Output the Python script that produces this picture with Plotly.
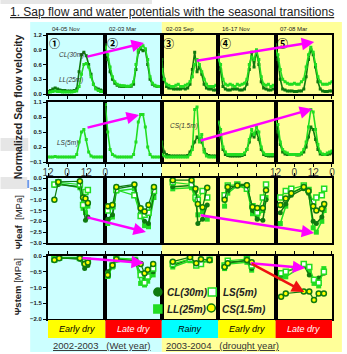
import plotly.graph_objects as go

W, H = 347, 354
ML, MR, MT, MB = 48, 12, 35, 35
PW, PH = W - ML - MR, H - MT - MB


def X(px):
    return (px - ML) / PW


def Y(py):
    return (H - MB - py) / PH


# ---------------- data ----------------
PANEL_DATES = ["04-05 Nov", "02-03 Mar", "02-03 Sep", "16-17 Nov", "07-08 Mar"]
PANEL_MARKS = ["①", "②", "③", "④", "⑤"]
SEASONS = ["Early dry", "Late dry", "Rainy", "Early dry", "Late dry"]
SEASON_COLORS = ["#ffff00", "#ff0000", "#00ffff", "#ffff00", "#ff0000"]
SEASON_TEXT = ["black", "white", "black", "black", "white"]
YEARS = ["2002-2003\u00a0\u00a0\u00a0(Wet year)", "2003-2004\u00a0\u00a0\u00a0(drought year)"]

HOUR_TICKS = [0, 12, 24, 36]
HOUR_LABELS = ["12", "0", "12", "0"]

SAP_HOURS = [0, 1.5, 3, 4.5, 6, 7.5, 9, 10.5, 12, 13.5, 15, 16.5, 18,
             19.5, 21, 22.5, 24, 25.5, 27, 28.5, 30, 31.5, 33, 34.5, 36]

SAP_CL = [
    [0.05, 0.07, 0.10, 0.12, 0.10, 0.08, 0.07, 0.07, 0.06, 0.06, 0.06, 0.07, 0.10,
     0.45, 0.80, 0.85, 0.78, 0.60, 0.40, 0.20, 0.12, 0.10, 0.08, 0.06, 0.06],
    [1.00, 0.70, 0.45, 0.30, 0.22, 0.18, 0.16, 0.15, 0.15, 0.15, 0.15, 0.16, 0.20,
     0.50, 0.85, 0.92, 0.88, 0.90, 0.60, 0.30, 0.20, 0.17, 0.15, 0.15, 0.14],
    [0.70, 0.30, 0.15, 0.12, 0.12, 0.10, 0.10, 0.10, 0.10, 0.12, 0.10, 0.12, 0.20,
     0.50, 0.85, 0.45, 0.55, 0.40, 0.20, 0.12, 0.10, 0.10, 0.08, 0.08, 0.10],
    [0.80, 0.50, 0.15, 0.10, 0.08, 0.08, 0.10, 0.10, 0.10, 0.08, 0.08, 0.10, 0.20,
     0.50, 0.85, 0.55, 0.88, 0.60, 0.25, 0.12, 0.10, 0.08, 0.08, 0.10, 0.10],
    [1.00, 0.70, 0.30, 0.10, 0.08, 0.06, 0.06, 0.06, 0.05, 0.05, 0.06, 0.06, 0.10,
     0.35, 0.70, 0.90, 0.80, 0.55, 0.25, 0.10, 0.06, 0.05, 0.05, 0.06, 0.06],
]
SAP_LL = [
    [0.03, 0.04, 0.05, 0.06, 0.05, 0.05, 0.04, 0.04, 0.04, 0.04, 0.04, 0.05, 0.06,
     0.15, 0.40, 0.60, 0.62, 0.55, 0.35, 0.20, 0.10, 0.07, 0.05, 0.05, 0.05],
    [0.95, 0.80, 0.55, 0.35, 0.25, 0.20, 0.18, 0.17, 0.17, 0.16, 0.16, 0.18, 0.25,
     0.60, 0.90, 0.95, 0.98, 0.92, 0.70, 0.35, 0.22, 0.18, 0.16, 0.15, 0.15],
    [0.50, 0.30, 0.20, 0.18, 0.15, 0.15, 0.18, 0.20, 0.15, 0.15, 0.18, 0.20, 0.25,
     0.35, 0.60, 0.70, 0.60, 0.45, 0.30, 0.20, 0.15, 0.15, 0.15, 0.18, 0.20],
    [0.70, 0.60, 0.30, 0.20, 0.18, 0.20, 0.18, 0.15, 0.20, 0.18, 0.20, 0.22, 0.30,
     0.60, 0.75, 0.70, 0.90, 0.70, 0.35, 0.20, 0.18, 0.20, 0.15, 0.18, 0.20],
    [0.90, 0.80, 0.50, 0.30, 0.25, 0.22, 0.20, 0.20, 0.22, 0.20, 0.20, 0.25, 0.30,
     0.55, 0.80, 0.95, 0.85, 0.60, 0.35, 0.25, 0.20, 0.20, 0.20, 0.22, 0.25],
]
SAP_LS = [
    [0, 0, 0, 0.01, 0, 0, 0, 0, 0, 0, 0, 0, 0.05,
     0.30, 0.50, 0.55, 0.35, 0.10, 0.02, 0, 0, 0, 0, 0, 0],
    [1.05, 0.50, 0.15, 0.05, 0.02, 0, 0, 0, 0, 0, 0, 0, 0.05,
     0.30, 0.70, 0.85, 0.85, 0.60, 0.20, 0.05, 0, 0, 0, 0, 0],
    [0.05, 0.02, 0, 0, 0, 0, 0, 0, 0, 0, 0, 0, 0.05,
     0.15, 0.95, 1.00, 0.30, 0.45, 0.10, 0.02, 0, 0, 0, 0, 0],
    [0.70, 0.55, 0.20, 0.10, 0.05, 0.05, 0.05, 0.05, 0.05, 0.05, 0.05, 0.08, 0.15,
     0.35, 0.55, 0.45, 0.60, 0.50, 0.20, 0.08, 0.05, 0.05, 0.05, 0.05, 0.05],
    [0.70, 0.65, 0.30, 0.15, 0.10, 0.08, 0.05, 0.05, 0.05, 0.05, 0.05, 0.08, 0.15,
     0.30, 0.60, 0.95, 0.90, 0.55, 0.25, 0.10, 0.06, 0.05, 0.08, 0.10, 0.12],
]
SAP_CS = [
    None,
    None,
    [0.30, 0.10, 0.05, 0.03, 0.02, 0.02, 0.02, 0.02, 0.02, 0.02, 0.02, 0.03, 0.10,
     0.20, 0.30, 0.40, 0.35, 0.30, 0.15, 0.05, 0.03, 0.02, 0.02, 0.02, 0.02],
    [0.50, 0.40, 0.15, 0.05, 0.03, 0.02, 0.02, 0.02, 0.02, 0.02, 0.03, 0.05, 0.15,
     0.30, 0.45, 0.40, 0.50, 0.35, 0.15, 0.05, 0.03, 0.02, 0.02, 0.02, 0.02],
    [0.60, 0.50, 0.25, 0.10, 0.06, 0.05, 0.05, 0.05, 0.05, 0.04, 0.04, 0.06, 0.10,
     0.20, 0.40, 0.60, 0.55, 0.35, 0.15, 0.06, 0.05, 0.05, 0.05, 0.06, 0.08],
]

LEAF_HOURS = [
    [4, 6.5, 20, 22, 23.5, 25],
    [1.5, 4.5, 7, 18.5, 22.5, 25, 27.5, 31],
    [7, 19, 21.5, 23, 26, 29],
    [4, 6, 12, 18, 21.5, 24.5, 28, 30],
    [3, 6.5, 10, 18, 21, 24, 26, 29.5, 31],
]
LEAF_CL = [
    [-0.35, -0.30, -0.40, -1.20, -1.95, -1.80],
    [-1.90, -1.70, -0.50, -0.35, -1.60, -2.00, -2.10, -0.70],
    [-0.40, -0.35, -0.60, -2.10, -1.90, -1.25],
    [-0.90, -0.60, -0.30, -0.30, -1.50, -1.90, -1.95, -1.00],
    [-1.60, -1.20, -0.80, -0.50, -0.70, -2.00, -2.10, -1.80, -1.30],
]
LEAF_LL = [
    [-0.30, -0.25, -0.45, -1.40, -1.60, -1.30],
    [-2.10, -1.80, -0.60, -0.50, -1.70, -2.20, -2.25, -0.90],
    [-0.50, -0.45, -1.00, -1.70, -1.55, -1.90],
    [-1.30, -0.70, -0.35, -0.50, -1.65, -1.80, -1.50, -0.90],
    [-2.10, -1.30, -0.70, -0.40, -0.60, -2.30, -2.50, -2.00, -1.50],
]
LEAF_LS = [
    [-0.30, -0.20, -0.30, -1.25, -0.65, -0.55],
    [-1.50, -1.30, -0.55, -0.80, -1.75, -1.70, -1.60, -0.60],
    [-0.20, -0.30, -0.90, -1.00, -0.60, -0.90],
    [-0.80, -0.35, -0.30, -0.50, -1.30, -1.60, -0.90, -0.30],
    [-0.90, -0.60, -0.50, -0.35, -0.55, -1.10, -0.90, -0.80, -0.50],
]
LEAF_CS = [
    [-1.00, -0.18, -0.15, -0.90, -0.95, -1.15],
    [-1.30, -1.25, -0.42, -0.30, -1.40, -1.55, -1.25, -0.42],
    [-0.10, -0.10, -0.50, -1.20, -1.35, -0.45],
    [-1.00, -0.42, -0.35, -0.34, -1.34, -1.38, -1.38, -0.57],
    [-1.25, -0.95, -0.70, -0.42, -0.60, -1.30, -1.50, -1.42, -1.20],
]

STEM_HOURS = [
    [4, 7, 20, 23, 25],
    [1.5, 4.5, 7, 19, 22.5, 25, 27, 30.5],
    [7, 18, 22, 25, 30.5],
    [4, 6, 18, 21],
    [3.5, 6.5, 18, 21.5, 24.5, 27.5, 30.8],
]
STEM_CL = [
    [-0.10, -0.05, -0.10, -0.40, -0.30],
    [-0.50, -0.30, -0.10, -0.20, -0.55, -0.70, -0.60, -0.50],
    [-0.30, -0.10, -0.25, -0.20, -0.15],
    [-0.30, -0.20, -0.15, -0.40],
    [-0.60, -0.50, -0.30, -0.60, -0.75, -0.70, -0.55],
]
STEM_LL = [
    [-0.08, -0.05, -0.05, -0.15, -0.20],
    [-0.65, -0.35, -0.07, -0.10, -0.87, -0.92, -0.80, -0.60],
    [-0.35, -0.15, -0.30, -0.20, -0.15],
    [-0.40, -0.25, -0.20, -0.45],
    [-0.70, -0.66, -0.29, -0.45, -0.87, -0.95, -0.40],
]
STEM_LS = [
    [-0.10, -0.05, -0.06, -0.20, -0.15],
    [-0.60, -0.30, -0.10, -0.15, -0.60, -0.85, -0.65, -0.40],
    [-0.25, -0.10, -0.30, -0.25, -0.12],
    [-0.30, -0.15, -0.10, -0.30],
    [-0.55, -0.50, -0.25, -0.35, -0.75, -0.85, -0.50],
]
STEM_CS = [
    [-0.13, -0.07, -0.07, -0.25, -0.21],
    [-0.60, -0.29, -0.10, -0.15, -0.25, -0.55, -0.44, -0.25],
    [-0.18, -0.04, -0.23, -0.10, -0.13],
    [-0.35, -0.23, -0.13, -0.20],
    [-1.29, -1.19, -1.13, -1.13, -1.40, -1.19, -1.19],
]

# ---------------- layout geometry ----------------
COL_PX = [48, 106, 163, 220, 278, 335]
ROW_PX = [(35, 94), (102, 162), (178, 243), (256, 319)]
Y_RANGES = [(0, 1.2), (-0.1, 1.1), (-3, 0), (-2, 0)]
Y_TICKS = [[0, 0.3, 0.6, 0.9, 1.2], [-0.1, 0.2, 0.5, 0.8, 1.1],
           [0, -0.5, -1, -1.5, -2, -2.5, -3], [0, -0.5, -1, -1.5, -2]]

DARK = "#0f7a0f"
BRIGHT = "#22dd22"
FONT = "Liberation Sans"


def axname(i, a):
    return a if i == 1 else f"{a}{i}"


fig = go.Figure()
layout = {}
for r in range(4):
    for c in range(5):
        i = r * 5 + c + 1
        layout["xaxis" if i == 1 else f"xaxis{i}"] = dict(
            domain=[X(COL_PX[c]), X(COL_PX[c + 1])], anchor=axname(i, "y"),
            range=[0, 36], tickvals=HOUR_TICKS, ticktext=HOUR_LABELS,
            ticks="outside", ticklen=3, tickwidth=1, tickcolor="black",
            showline=True, linecolor="black", linewidth=2, mirror=True,
            showgrid=False, zeroline=False,
            showticklabels=(r == 1 and c in (0, 4)), ticklabelstandoff=-3,
            tickfont=dict(size=10, color="#444", family=FONT),
            side="top" if r >= 2 else "bottom", fixedrange=True)
        layout["yaxis" if i == 1 else f"yaxis{i}"] = dict(
            domain=[Y(ROW_PX[r][1]), Y(ROW_PX[r][0])], anchor=axname(i, "x"),
            range=list(Y_RANGES[r]), tickvals=Y_TICKS[r], tickformat=".1f",
            ticks="outside" if c == 0 else "", ticklen=3, tickcolor="black",
            showticklabels=(c == 0),
            tickfont=dict(size=6, color="#222", family=FONT, weight="bold"),
            showline=True, linecolor="black", linewidth=2, mirror=True,
            showgrid=False, zeroline=False, fixedrange=True)


def add(r, c, xs, ys, **kw):
    i = r * 5 + c + 1
    fig.add_trace(go.Scatter(x=xs, y=ys, xaxis=axname(i, "x"), yaxis=axname(i, "y"),
                             showlegend=False, hoverinfo="skip", **kw))


# sap flow rows
for c in range(5):
    for r, series in ((0, [(SAP_CL, DARK), (SAP_LL, BRIGHT)]),
                      (1, [(SAP_CS, DARK), (SAP_LS, BRIGHT)])):
        for data, col in series:
            if data[c] is None:
                continue
            add(r, c, SAP_HOURS, data[c], mode="lines+markers",
                line=dict(color=col, width=1.6),
                marker=dict(size=3, color=col, symbol="square"))

# water potential rows
STYLES = {
    "LL": dict(line=dict(color=BRIGHT, width=1.5),
               marker=dict(symbol="square", size=5, color=BRIGHT)),
    "CL": dict(line=dict(color=DARK, width=1.5),
               marker=dict(symbol="circle", size=5, color=DARK)),
    "LS": dict(line=dict(color=BRIGHT, width=1.2),
               marker=dict(symbol="square", size=5, color="white",
                           line=dict(color=BRIGHT, width=1.5))),
    "CS": dict(line=dict(color=DARK, width=1.2),
               marker=dict(symbol="circle", size=5, color="#ffff00",
                           line=dict(color=DARK, width=1.5))),
}
for c in range(5):
    for r, hrs, sets in ((2, LEAF_HOURS, [("LL", LEAF_LL), ("CL", LEAF_CL), ("LS", LEAF_LS), ("CS", LEAF_CS)]),
                         (3, STEM_HOURS, [("LL", STEM_LL), ("CL", STEM_CL), ("LS", STEM_LS), ("CS", STEM_CS)])):
        for name, data in sets:
            add(r, c, hrs[c], data[c], mode="lines+markers", cliponaxis=False, **STYLES[name])

shapes = []
# background panels
shapes.append(dict(type="rect", xref="paper", yref="paper", layer="below",
                   x0=X(30), x1=X(163), y0=Y(352), y1=Y(22),
                   fillcolor="#ccffff", line=dict(width=0)))
shapes.append(dict(type="rect", xref="paper", yref="paper", layer="below",
                   x0=X(163), x1=X(345), y0=Y(352), y1=Y(22),
                   fillcolor="#ffff99", line=dict(width=0)))
# light grey blocks on the left margin
for (x0, y0, x1, y1, col) in ((0, 0, 153, 4, "#e6e6e6"), (0, 138, 28, 151, "#e6e6e6"),
                              (0, 177, 27, 189, "#e6e6e6"), (27, 180, 29, 188, "#6f9ae8")):
    shapes.append(dict(type="rect", xref="paper", yref="paper", layer="below",
                       x0=X(x0), x1=X(x1), y0=Y(y1), y1=Y(y0),
                       fillcolor=col, line=dict(width=0)))
# season bars
for c in range(5):
    shapes.append(dict(type="rect", xref="paper", yref="paper",
                       x0=X(COL_PX[c]), x1=X(COL_PX[c + 1]), y0=Y(338), y1=Y(320),
                       fillcolor=SEASON_COLORS[c], line=dict(width=0)))

# legend marker shapes
LEG = [(159, 292, "circle", DARK, DARK), (159, 309, "rect", BRIGHT, BRIGHT),
       (214, 292, "rect", "white", BRIGHT), (213, 308, "circle", "#ffff00", DARK)]
for (px, py, typ, fill, edge) in LEG:
    shapes.append(dict(type=typ, xref="paper", yref="paper", xsizemode="pixel",
                       ysizemode="pixel", xanchor=X(px), yanchor=Y(py),
                       x0=-4, x1=4, y0=-4, y1=4, fillcolor=fill,
                       line=dict(color=edge, width=1.5)))

ann = []


def txt(px, py, s, size, xanchor="left", color="#222", angle=0, **kw):
    ann.append(dict(x=X(px), y=Y(py), xref="paper", yref="paper", text=s,
                    showarrow=False, xanchor=xanchor, yanchor="middle",
                    textangle=angle, font=dict(size=size, color=color, family=FONT, **kw)))


txt(8, 12, "<u>1. Sap flow and water potentials with the seasonal transitions</u>", 12)
txt(18, 107, "<b>Normalized Sap flow velocity</b>", 10.5, xanchor="center", angle=-90)
txt(18, 222, "<b>\u03a8leaf</b>  [MPa]", 9.5, xanchor="center", angle=-90)
txt(17, 287, "<b>\u03a8stem</b> [MPa]", 9.5, xanchor="center", angle=-90)

for c in range(5):
    txt(COL_PX[c] + 2, 29, PANEL_DATES[c], 6)
    ann.append(dict(x=X(COL_PX[c] + 7), y=Y(43), xref="paper", yref="paper",
                    text=PANEL_MARKS[c], showarrow=False, xanchor="center", yanchor="middle",
                    font=dict(size=11, color="black", family="Noto Sans CJK JP", weight="bold")))
    txt((COL_PX[c] + COL_PX[c + 1]) / 2, 329, "<i>" + SEASONS[c] + "</i>", 9,
        xanchor="center", color=SEASON_TEXT[c])

txt(57, 55, "<i>CL(30m)</i>", 6.5, color="#333")
txt(57, 80, "<i>LL(25m)</i>", 6.5, color="#333")
txt(55, 143, "<i>LS(5m)</i>", 6.5, color="#333")
txt(169, 126, "<i>CS(1.5m)</i>", 6.5, color="#333")

txt(166, 292, "<b><i>CL(30m)</i></b>", 10)
txt(166, 309, "<b><i>LL(25m)</i></b>", 10)
txt(223, 292, "<b><i>LS(5m)</i></b>", 10)
txt(222, 309, "<b><i>CS(1.5m)</i></b>", 10)

txt(51, 345, "<u>" + YEARS[0] + "</u>", 9.5, color="#333")
txt(165, 345, "<u>" + YEARS[1] + "</u>", 9.5, color="#333")

# seasonal-transition arrows (tail px -> head px)
ARROWS = [((87, 57), (145, 43), "#ff00ff"), ((198, 61), (317, 42), "#ff00ff"),
          ((87, 128), (140, 115), "#ff00ff"), ((202, 141), (315, 109), "#ff00ff"),
          ((87, 217), (147, 232), "#ff00ff"), ((202, 215), (317, 233), "#ff00ff"),
          ((82, 258), (145, 263), "#ff00ff"), ((252, 263), (308, 268), "#ff00ff"),
          ((253, 263), (307, 292), "#ee1111")]
for (t, h, col) in ARROWS:
    ann.append(dict(x=X(h[0]), y=Y(h[1]), xref="paper", yref="paper",
                    ax=t[0] - h[0], ay=t[1] - h[1], axref="pixel", ayref="pixel",
                    text="", showarrow=True, arrowhead=2, arrowsize=1,
                    arrowwidth=2.5, arrowcolor=col))

fig.update_layout(width=W, height=H, margin=dict(l=ML, r=MR, t=MT, b=MB),
                  paper_bgcolor="white", plot_bgcolor="rgba(0,0,0,0)",
                  shapes=shapes, annotations=ann, showlegend=False, **layout)
fig.write_html("out.html", config={"displayModeBar": False})
